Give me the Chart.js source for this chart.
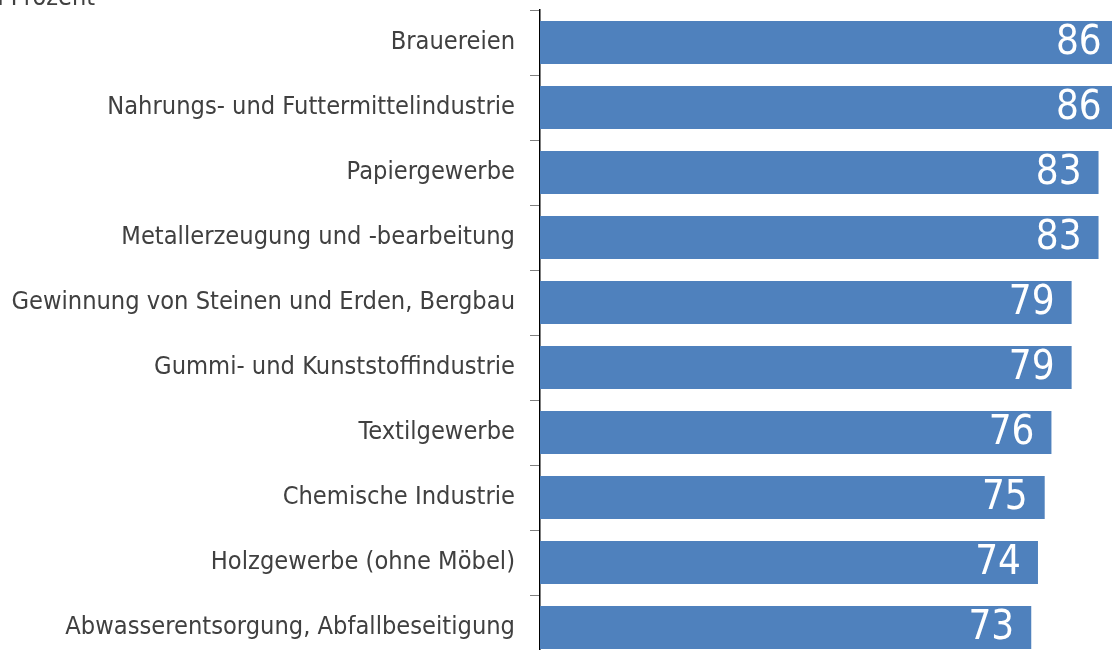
<!DOCTYPE html>
<html><head><meta charset="utf-8">
<script src="https://cdn.jsdelivr.net/npm/chart.js@4"></script>
<style>
html,body{margin:0;padding:0;overflow:hidden;background:#fff;width:1112px;height:650px}
#wrap{position:relative;width:1112px;height:660px}
</style></head>
<body><div id="wrap"><canvas id="c" width="1112" height="660"></canvas></div>
<script>
const categories = ["Brauereien","Nahrungs- und Futtermittelindustrie","Papiergewerbe","Metallerzeugung und -bearbeitung","Gewinnung von Steinen und Erden, Bergbau","Gummi- und Kunststoffindustrie","Textilgewerbe","Chemische Industrie","Holzgewerbe (ohne Möbel)","Abwasserentsorgung, Abfallbeseitigung"];
const values = [86,86,83,83,79,79,76,75,74,73];
const unitLabel = "in Prozent";

const FONT = "'Liberation Sans Narrow','DejaVu Sans Condensed','Liberation Sans',sans-serif";

const valuePlugin = {
  id:'vals',
  afterDatasetsDraw(chart){
    const ctx = chart.ctx;
    const meta = chart.getDatasetMeta(0);
    ctx.save();
    ctx.fillStyle = '#ffffff';
    ctx.font = "40px " + FONT;
    ctx.textAlign = 'right';
    ctx.textBaseline = 'middle';
    meta.data.forEach((bar,i)=>{
      ctx.fillText(String(values[i]), bar.x - 17, bar.y + 1);
    });
    ctx.restore();
  },
  afterDraw(chart){
    const ctx = chart.ctx;
    ctx.save();
    ctx.fillStyle = '#404040';
    ctx.font = "25px " + FONT;
    ctx.textAlign = 'right';
    ctx.textBaseline = 'alphabetic';
    ctx.fillText(unitLabel, 95, 5);
    ctx.restore();
  }
};

new Chart(document.getElementById('c'), {
  type:'bar',
  data:{labels:categories, datasets:[{data:values, backgroundColor:'#4F81BD', borderWidth:0, barPercentage:0.66, categoryPercentage:1.0}]},
  options:{
    indexAxis:'y', responsive:false, animation:false,
    layout:{padding:{top:10,bottom:0,left:0,right:0}},
    plugins:{legend:{display:false}, tooltip:{enabled:false}},
    scales:{
      x:{display:false, min:0, max:85},
      y:{
        afterFit(s){ s.width = 540; s.paddingTop = 0; s.paddingBottom = 0; },
        border:{display:true, color:'#000000', width:1.5},
        grid:{display:true, drawOnChartArea:false, offset:true, tickLength:10, color:'#7f7f7f', lineWidth:1},
        ticks:{padding:15, color:'#404040', font:{family:FONT, size:25.2}}
      }
    }
  },
  plugins:[valuePlugin]
});
</script></body></html>
